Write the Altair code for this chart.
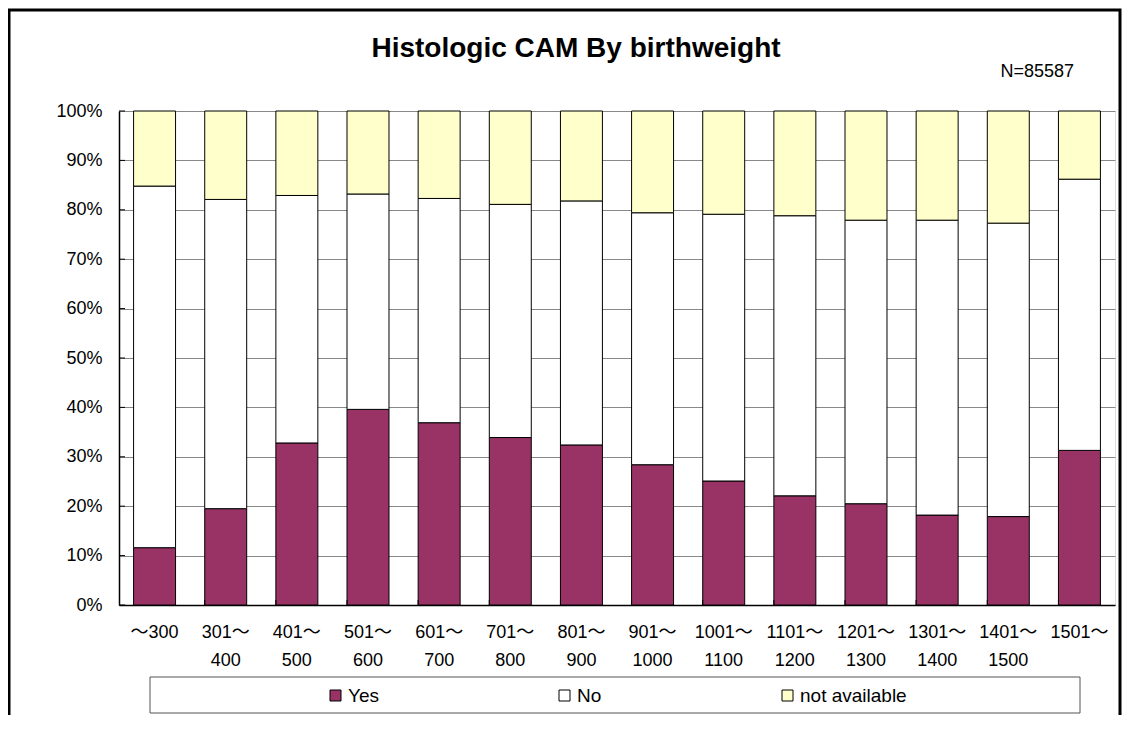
import altair as alt
import pandas as pd

categories = ["～300", "301～\n400", "401～\n500", "501～\n600", "601～\n700", "701～\n800",
              "801～\n900", "901～\n1000", "1001～\n1100", "1101～\n1200", "1201～\n1300",
              "1301～\n1400", "1401～\n1500", "1501～"]
series = ["Yes", "No", "not available"]
yes = [11.6, 19.5, 32.8, 39.6, 36.9, 33.9, 32.4, 28.4, 25.1, 22.1, 20.5, 18.2, 17.9, 31.3]
no = [73.2, 62.6, 50.1, 43.6, 45.4, 47.2, 49.4, 51.0, 54.0, 56.7, 57.4, 59.7, 59.4, 54.9]
na = [15.2, 17.9, 17.1, 16.8, 17.7, 18.9, 18.2, 20.6, 20.9, 21.2, 22.1, 22.1, 22.7, 13.8]
colors = ["#993366", "#FFFFFF", "#FFFFCC"]
y_ticks = [0, 0.1, 0.2, 0.3, 0.4, 0.5, 0.6, 0.7, 0.8, 0.9, 1.0]
title_text = "Histologic CAM By birthweight"
n_text = "N=85587"

FONT = "Liberation Sans, Noto Sans CJK JP"
W, H = 996, 494

rows = []
for i, c in enumerate(categories):
    for k, (s, vals) in enumerate(zip(series, [yes, no, na])):
        rows.append({"cat": c, "series": s, "value": vals[i], "order": k})
df = pd.DataFrame(rows)

xscale = alt.Scale(domain=categories, paddingInner=0.41, paddingOuter=0.205)

bars = alt.Chart(df).mark_bar(stroke="black", strokeWidth=1).encode(
    x=alt.X("cat:N", scale=xscale, sort=categories,
            axis=alt.Axis(title=None, labelAngle=0, labelFont=FONT, labelFontSize=18,
                          labelColor="black", labelPadding=18, labelLineHeight=28,
                          labelExpr="split(datum.label, '\\n')", ticks=False,
                          domainColor="black", domainWidth=1.5, labelBaseline="top")),
    y=alt.Y("value:Q", stack="normalize",
            scale=alt.Scale(domain=[0, 1]),
            axis=alt.Axis(title=None, format=".0%", values=y_ticks, labelFont=FONT,
                          labelFontSize=18, labelColor="black", labelPadding=17,
                          ticks=False, grid=True, gridColor="#888888", gridWidth=1,
                          domainColor="black", domainWidth=1.5)),
    fill=alt.Fill("series:N", scale=alt.Scale(domain=series, range=colors),
                  legend=alt.Legend(title=None, orient="none", legendX=207, legendY=575,
                                    direction="horizontal", symbolType="square",
                                    symbolSize=121, symbolStrokeColor="black",
                                    symbolStrokeWidth=1, labelFont=FONT, labelFontSize=19,
                                    labelColor="black", labelOffset=3, columnPadding=176,
                                    gridAlign="none")),
    order=alt.Order("order:Q"),
)

xticks = alt.Chart(pd.DataFrame({"cat": categories[1:]})).mark_rule(
    color="black", strokeWidth=1).encode(
    x=alt.X("cat:N", scale=xscale, sort=categories, bandPosition=0),
    y=alt.value(H), y2=alt.value(H - 5),
)

yticks = alt.Chart(pd.DataFrame({"v": y_ticks})).mark_rule(
    color="black", strokeWidth=1).encode(
    y=alt.Y("v:Q", scale=alt.Scale(domain=[0, 1])),
    x=alt.value(0), x2=alt.value(6),
)

one = pd.DataFrame({"a": [0]})
frame = alt.Chart(one).mark_rect(fill=None, stroke="black", strokeWidth=3).encode(
    x=alt.value(-110), x2=alt.value(1001), y=alt.value(-101), y2=alt.value(700),
)
legend_box = alt.Chart(one).mark_rect(fill="white", stroke="#555555", strokeWidth=1).encode(
    x=alt.value(31), x2=alt.value(961), y=alt.value(566), y2=alt.value(602),
)
title = alt.Chart(one).mark_text(text=title_text, font=FONT, fontSize=28,
                                 fontWeight="bold", align="center",
                                 baseline="alphabetic", color="black").encode(
    x=alt.value(457), y=alt.value(-54),
)
ntext = alt.Chart(one).mark_text(text=n_text, font=FONT, fontSize=18,
                                 align="right", baseline="alphabetic",
                                 color="black").encode(
    x=alt.value(955), y=alt.value(-34),
)

chart = alt.layer(frame, legend_box, bars, xticks, yticks, title, ntext).properties(
    width=W, height=H,
    autosize=alt.AutoSizeParams(type="none"),
    padding={"left": 111, "top": 103, "right": 8, "bottom": 110},
).configure_view(stroke="#888888", strokeWidth=1.5).configure(background="white")

chart.save("out.html", embed_options={"renderer": "svg", "actions": False})
